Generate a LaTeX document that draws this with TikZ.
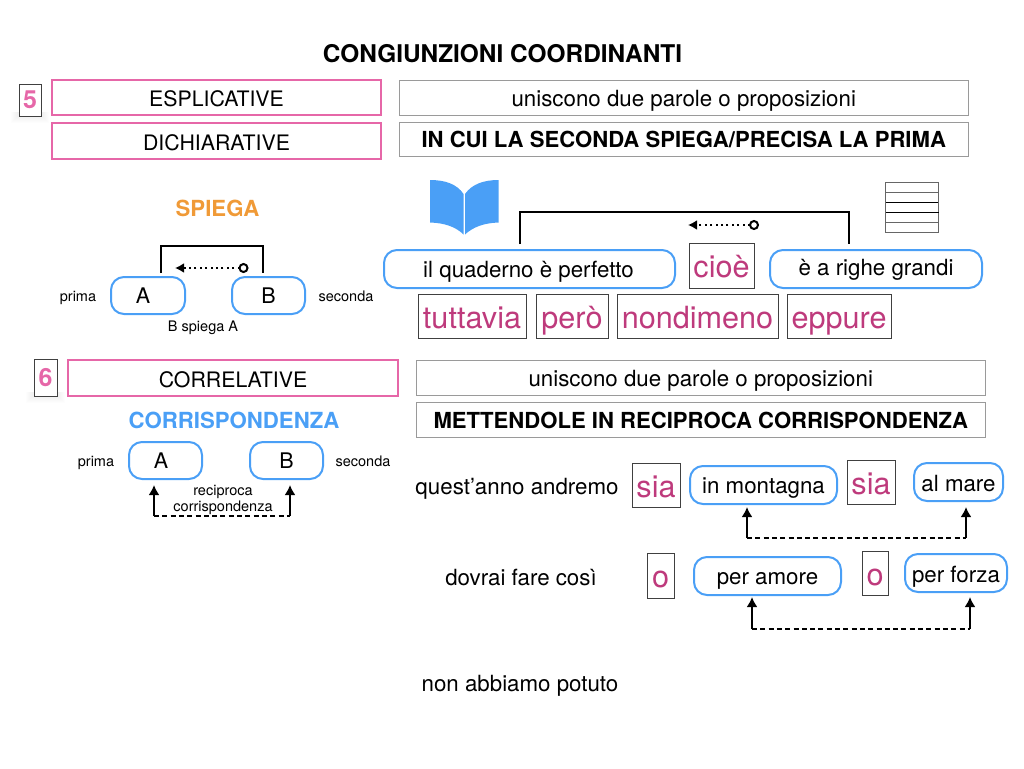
\documentclass[tikz,border=0pt]{standalone}
\usepackage{fontspec}
\setmainfont{TeX Gyre Heros}
\usetikzlibrary{arrows.meta,calc}
\definecolor{cblue}{HTML}{4A9FF6}
\definecolor{cpink}{HTML}{E667A8}
\definecolor{cmag}{HTML}{BE3A7C}
\definecolor{corange}{HTML}{F09A37}
\definecolor{cgrey}{HTML}{9A9A9A}
\newcommand\fz[1]{\fontsize{#1}{#1}\selectfont}
\newcommand\bx[7]{\node[#1,minimum width={#5-#3},minimum height={#6-#4}] (#2) at ({(#3+#5)/2},{(#4+#6)/2}) {#7};}
\tikzset{
  x=1pt,y=-1pt,
  every node/.style={inner sep=0pt,outer sep=0pt,text=black},
  line16/.style={text height=16pt,text depth=0pt},
  line18/.style={text height=18pt,text depth=0pt},
  pinkbox/.style={draw=cpink,line width=2pt,font=\fz{21.3},line18},
  greybox/.style={draw=cgrey,line width=1pt,font=\fz{22.3},line18},
  greyboldbox/.style={draw=cgrey,line width=1pt,font=\fz{22.1}\bfseries,text height=17pt,text depth=0pt},
  numbox/.style={draw=black!75,line width=1pt,fill=white,text=cpink,font=\fz{25}\bfseries},
  pill/.style={draw=cblue,line width=2pt,rounded corners=13pt,fill=white,font=\fz{22.3},line16},
  pillab/.style={pill,font=\fz{21.5}},
  conj/.style={draw=black!75,line width=1pt,text=cmag,font=\fz{30.6},text height=24pt,text depth=0pt},
  small/.style={font=\fz{14.5}},
  plain/.style={font=\fz{22.3}},
  head/.style={font=\fz{22.2}\bfseries},
  link/.style={line width=2pt,draw=black},
  dotarrow/.style={line width=2pt,dash pattern=on 2pt off 3.4pt,-{Latex[length=9pt,width=10pt,fill=black]}},
  opendot/.style={circle,draw=black,line width=2pt,fill=white,minimum size=8pt},
  uparrow/.style={line width=2.2pt,-{Latex[length=10pt,width=11pt]},shorten >=2pt},
  dashlink/.style={line width=1.5pt,dash pattern=on 5pt off 3.3pt},
  rule/.style={draw=black!60,line width=1pt},
}
\begin{document}
\begin{tikzpicture}
\useasboundingbox (0,0) rectangle (1024,768);
% soft shadows
\foreach \d in {0,1,...,6}{
 \fill[black,opacity=.008] ({17-\d},{112}) rectangle ({43+\d},{117+\d});
 \fill[black,opacity=.008] ({32-\d},{392}) rectangle ({59+\d},{397+\d});
}
\node[font=\fz{24.4}\bfseries] (title) at (502.5,54) {CONGIUNZIONI COORDINANTI};
% section 5
\bx{numbox}{n5}{19}{84}{41}{116}{5}
\bx{pinkbox}{espl}{52}{80}{381}{115}{ESPLICATIVE}
\bx{pinkbox}{dich}{52}{123}{381}{159}{DICHIARATIVE}
\bx{greybox}{r1}{399.5}{80}{968}{115}{uniscono due parole o proposizioni}
\bx{greyboldbox}{r2}{399.5}{122}{968}{156}{IN CUI LA SECONDA SPIEGA/PRECISA LA PRIMA}
\node[head,text=corange] (spiega) at (217.5,208) {SPIEGA};
\bx{pillab}{A1}{111}{277}{185}{314}{A\kern10pt}
\bx{pillab}{B1}{232}{277}{305}{314}{B}
\node[small] (prima1) at (78,298) {prima};
\node[small] (sec1) at (346,296.5) {seconda};
\node[small] (bsa) at (203,328) {B spiega A};
\coordinate (a1l) at (161,273);
\coordinate (a1r) at (263,273);
\coordinate (a1t) at (212,245.5);
\draw[link] (a1l) |- (a1t) -| (a1r);
\node[opendot] (c1) at (243.5,268) {};
\coordinate (t1) at (175,268);
\draw[dotarrow] (c1) -- (t1);
% book icon
\fill[cblue] (430,180) .. controls (445,180) and (457,184) .. (463.5,194) -- (463.5,234.5) .. controls (456,227) and (445,223) .. (430,222.5) -- cycle;
\fill[cblue] (498.5,180) .. controls (484,180) and (472,184) .. (465,194) -- (465,234.5) .. controls (473,227) and (484,223) .. (498.5,222.5) -- cycle;
% ruled sheet
\draw[rule] (885,182) rectangle (938,232);
\draw[rule] (885,192) -- (938,192);
\draw[rule,draw=black] (886,202) -- (938,202);
\draw[rule,draw=black] (886,212) -- (939,212);
\draw[rule] (885,222) -- (938,222);
\bx{pill}{q1}{384}{250}{675}{288}{il quaderno è perfetto\kern2pt}
\bx{conj}{cioe}{689}{243}{754}{288}{cioè}
\bx{pill}{q2}{770}{250}{982}{288}{\raisebox{2pt}{è a righe grandi}}
\coordinate (a2l) at (520,244);
\coordinate (a2r) at (849,244);
\coordinate (a2t) at (680,212);
\draw[link] (a2l) |- (a2t) -| (a2r);
\node[opendot] (c2) at (754,225) {};
\coordinate (t2) at (688,225);
\draw[dotarrow] (c2) -- (t2);
\bx{conj}{tutt}{418}{294}{526}{338}{tuttavia}
\bx{conj}{pero}{536}{294}{608}{338}{però}
\bx{conj}{nond}{617}{294}{778}{338}{nondimeno}
\bx{conj}{eppu}{787}{294}{891}{338}{eppure}
% section 6
\bx{numbox}{n6}{34}{359}{57}{396}{6}
\bx{pinkbox}{corr}{68}{360}{398}{396}{CORRELATIVE}
\bx{greybox}{r3}{416.5}{360}{985}{395}{uniscono due parole o proposizioni}
\bx{greyboldbox}{r4}{416.5}{402}{985}{437}{METTENDOLE IN RECIPROCA CORRISPONDENZA}
\node[head,text=cblue] (corrisp) at (234,420) {CORRISPONDENZA};
\bx{pillab}{A2}{129}{442}{202}{479}{A\kern9pt}
\bx{pillab}{B2}{250}{442}{323}{479}{B}
\node[small] (prima2) at (96,463) {prima};
\node[small] (sec2) at (363,461.5) {seconda};
\node[small] (rec1) at (223,492) {reciproca};
\node[small] (rec2) at (223,508) {corrispondenza};
\coordinate (d1l) at (154,516);
\coordinate (d1r) at (290,516);
\coordinate (h1l) at (154,483);
\coordinate (h1r) at (290,483);
\draw[dashlink] (d1l) -- (d1r);
\draw[uparrow] (d1l) -- (h1l);
\draw[uparrow] (d1r) -- (h1r);
\node[plain] (q3) at (517,489) {quest’anno andremo};
\bx{conj}{sia1}{632}{463}{680}{507}{sia}
\bx{pill}{mont}{690}{466}{837}{504}{in montagna}
\bx{conj}{sia2}{847}{460}{895}{504}{sia}
\bx{pill}{mare}{914}{463}{1003}{501}{\raisebox{-1pt}{al mare}}
\coordinate (d2l) at (747,538);
\coordinate (d2r) at (966,538);
\draw[dashlink] (d2l) -- (d2r);
\draw[uparrow,shorten >=3pt] (d2l) -- (d2l |- mont.south);
\draw[uparrow,shorten >=6pt] (d2r) -- (d2r |- mare.south);
\node[plain] (q4) at (521,577.5) {dovrai fare così};
\bx{conj}{o1}{647}{553}{674}{598}{o}
\bx{pill}{amor}{694}{557}{841}{595}{per amore}
\bx{conj}{o2}{862}{551}{888}{595}{o}
\bx{pill}{forz}{905}{554}{1007}{592}{\raisebox{-1pt}{per forza}}
\coordinate (d3l) at (752,629);
\coordinate (d3r) at (970,629);
\draw[dashlink] (d3l) -- (d3r);
\draw[uparrow] (d3l) -- (d3l |- amor.south);
\draw[uparrow,shorten >=5pt] (d3r) -- (d3r |- forz.south);
\node[plain] (q5) at (520,686) {non abbiamo potuto};
\end{tikzpicture}
\end{document}
